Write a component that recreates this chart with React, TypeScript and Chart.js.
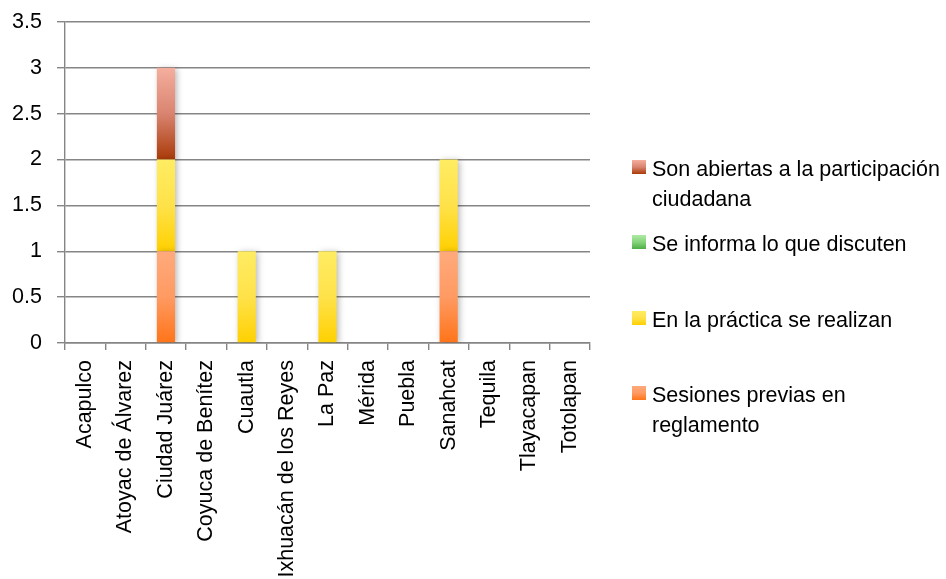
import React, { useEffect, useRef } from "react";
import { Chart, registerables } from "chart.js";

Chart.register(...registerables);

const categories = [
  "Acapulco",
  "Atoyac de Álvarez",
  "Ciudad Juárez",
  "Coyuca de Benítez",
  "Cuautla",
  "Ixhuacán de los Reyes",
  "La Paz",
  "Mérida",
  "Puebla",
  "Sanahcat",
  "Tequila",
  "Tlayacapan",
  "Totolapan",
];

const sesionesPrevias = [0, 0, 1, 0, 0, 0, 0, 0, 0, 1, 0, 0, 0];
const enLaPractica = [0, 0, 1, 0, 1, 0, 1, 0, 0, 1, 0, 0, 0];
const seInforma = [0, 0, 0, 0, 0, 0, 0, 0, 0, 0, 0, 0, 0];
const sonAbiertas = [0, 0, 1, 0, 0, 0, 0, 0, 0, 0, 0, 0, 0];

const seriesLabels = [
  "Sesiones previas en reglamento",
  "En la práctica se realizan",
  "Se informa lo que discuten",
  "Son abiertas a la participación ciudadana",
];

// gradient stops, top -> bottom
const seriesGradients = [
  ["#FFAA7C", "#FF9A62", "#FF7418"],
  ["#FFEC62", "#FFE24A", "#FFD000"],
  ["#AEEAA4", "#86D47C", "#4EAE44"],
  ["#F5AE9E", "#D98470", "#A93A08"],
];

const yTicks = [0, 0.5, 1, 1.5, 2, 2.5, 3, 3.5];
const yTickLabels = ["0", "0.5", "1", "1.5", "2", "2.5", "3", "3.5"];

const FONT = '"Liberation Sans", Arial, sans-serif';
const GRID = "#858585";

function gradientFor(seriesIndex: number) {
  const stops = seriesGradients[seriesIndex];
  return (ctx: any) => {
    const chart = ctx.chart;
    const yScale = chart.scales?.y;
    if (!chart.chartArea || !yScale || ctx.type !== "data") return stops[1];
    const i = ctx.dataIndex;
    const di = ctx.datasetIndex;
    let base = 0;
    for (let k = 0; k < di; k++) base += Number(chart.data.datasets[k].data[i]) || 0;
    const v = Number(chart.data.datasets[di].data[i]) || 0;
    const yBottom = yScale.getPixelForValue(base);
    const yTop = yScale.getPixelForValue(base + v);
    if (!isFinite(yBottom) || !isFinite(yTop) || yBottom === yTop) return stops[1];
    const g = chart.ctx.createLinearGradient(0, yTop, 0, yBottom);
    stops.forEach((c, idx) => g.addColorStop(idx / (stops.length - 1), c));
    return g;
  };
}

const shadowPlugin = {
  id: "barShadow",
  beforeDatasetsDraw(chart: any) {
    const c = chart.ctx;
    c.save();
    c.shadowColor = "rgba(0,0,0,0.28)";
    c.shadowBlur = 6;
    c.shadowOffsetX = 2;
    c.shadowOffsetY = 1;
  },
  afterDatasetsDraw(chart: any) {
    chart.ctx.restore();
  },
};

const legendTops = [379.7, 304.7, 228.7, 153.7];

export default function App() {
  const canvasRef = useRef<HTMLCanvasElement | null>(null);

  useEffect(() => {
    document.body.style.margin = "0";
    const canvas = canvasRef.current;
    if (!canvas) return;
    const values = [sesionesPrevias, enLaPractica, seInforma, sonAbiertas];
    const chart = new Chart(canvas, {
      type: "bar",
      data: {
        labels: categories,
        datasets: values.map((data, idx) => ({
          label: seriesLabels[idx],
          data,
          backgroundColor: gradientFor(idx),
          borderWidth: 0,
          barPercentage: 0.45,
          categoryPercentage: 1,
        })),
      },
      plugins: [shadowPlugin],
      options: {
        responsive: false,
        animation: false,
        events: [],
        layout: { padding: { left: 0, top: 22, right: 356, bottom: 0 } },
        plugins: {
          legend: { display: false },
          tooltip: { enabled: false },
        },
        scales: {
          x: {
            stacked: true,
            grid: {
              display: true,
              drawOnChartArea: false,
              drawTicks: true,
              tickLength: 7,
              color: GRID,
              lineWidth: 1.4,
              offset: true,
            },
            border: { display: true, color: GRID, width: 1.4 },
            ticks: {
              autoSkip: false,
              minRotation: 90,
              maxRotation: 90,
              padding: 10,
              color: "#000",
              font: { family: FONT, size: 21.5 },
            },
            afterFit: (scale: any) => {
              scale.height = 236;
            },
          },
          y: {
            stacked: true,
            min: 0,
            max: 3.5,
            afterBuildTicks: (scale: any) => {
              scale.ticks = yTicks.map((v) => ({ value: v }));
            },
            grid: {
              color: GRID,
              lineWidth: 1.4,
              tickLength: 8,
            },
            border: { display: true, color: GRID, width: 1.4 },
            ticks: {
              padding: 15,
              color: "#000",
              font: { family: FONT, size: 21.5 },
              callback: (value: any) => {
                const idx = yTicks.indexOf(Number(value));
                return idx >= 0 ? yTickLabels[idx] : String(value);
              },
            },
            afterFit: (scale: any) => {
              scale.width = 65;
              scale.paddingTop = 0;
              scale.paddingBottom = 0;
            },
          },
        },
      },
    });
    return () => chart.destroy();
  }, []);

  return (
    <div style={{ position: "relative", width: 946, height: 579, background: "#fff", overflow: "hidden" }}>
      <canvas ref={canvasRef} width={946} height={579} style={{ display: "block" }} />
      {seriesLabels.map((label, s) => (
        <div
          key={label}
          style={{
            position: "absolute",
            left: 632,
            top: legendTops[s],
            width: 310,
            fontFamily: FONT,
            fontSize: 21.5,
            lineHeight: "30px",
            color: "#000",
          }}
        >
          <span
            style={{
              position: "absolute",
              left: 0,
              top: 6,
              width: 14,
              height: 14,
              background: `linear-gradient(to bottom, ${seriesGradients[s].join(", ")})`,
            }}
          />
          <div style={{ marginLeft: 20, width: 292 }}>{label}</div>
        </div>
      ))}
    </div>
  );
}
